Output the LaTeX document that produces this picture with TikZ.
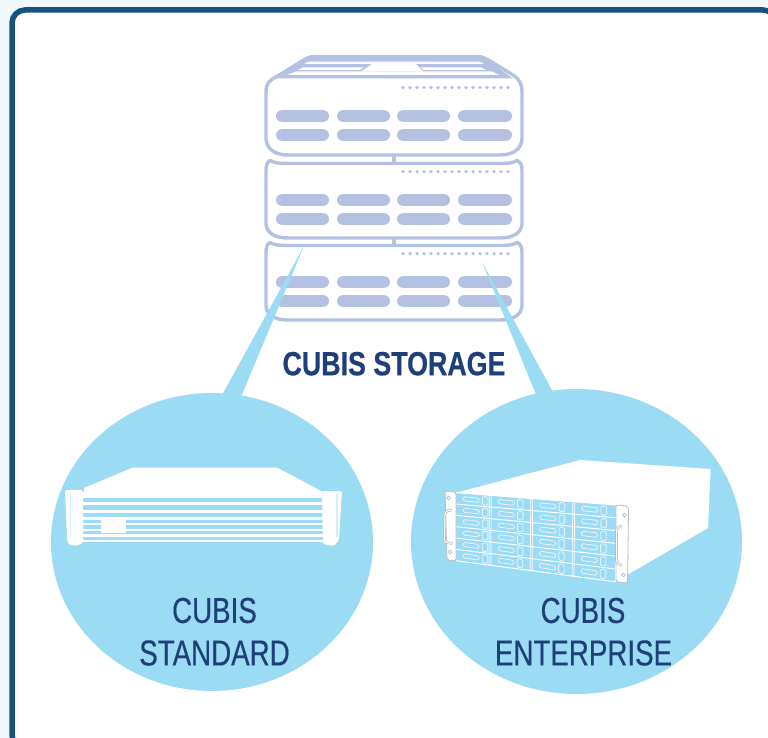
\documentclass[tikz,border=0pt]{standalone}
\usepackage{fontspec}
\setmainfont{Liberation Sans}
\newfontfamily\narrowA[FakeStretch=0.77,FakeBold=0.35]{Liberation Sans}
\newfontfamily\narrowB[FakeStretch=0.80,FakeBold=0.5]{Liberation Sans Bold}
\usetikzlibrary{calc}
\definecolor{outerbg}{HTML}{F1F9FC}
\definecolor{framec}{HTML}{14527F}
\definecolor{unitc}{HTML}{B4C1E3}
\definecolor{bubble}{HTML}{9BDBF3}
\definecolor{titlec}{HTML}{1E3F78}
\definecolor{earc}{HTML}{B9BEC2}
\tikzset{
  unitline/.style={draw=unitc,line width=3.4pt,line join=round},
  pill/.style={fill=unitc,rounded corners=5.8pt},
  slot/.style={draw=white!75!bubble,line width=.8pt,rounded corners=1.5pt},
  ear/.style={fill=white,draw=earc,line width=.8pt,rounded corners=2pt},
  handle/.style={draw=earc,line width=2.6pt,rounded corners=2.5pt,line cap=round},
  handlein/.style={draw=white,line width=1pt,rounded corners=2.5pt,line cap=round},
  labelA/.style={text=titlec,font=\narrowA\fontsize{36}{40}\selectfont,inner sep=0pt},
  labelB/.style={text=titlec,font=\narrowB\fontsize{33.5}{38}\selectfont,inner sep=0pt},
  faceline/.style={draw=white,line width=1pt}
}
\newcommand{\unitrows}[3]{%
  \foreach \xa/\xb in {276/329,337/390,397/450,458/512}{
    \fill[pill] (\xa,#1-5.8) rectangle (\xb,#1+5.8);
    \fill[pill] (\xa,#2-5.8) rectangle (\xb,#2+5.8);
  }
  \foreach \i in {0,...,15}{
    \fill[unitc] ({403+\i*7},#3) circle (1.8);
  }
}
\newcommand{\fp}[2]{($($(fa)!#1!(fb)$)!#2!($(fd)!#1!(fc)$)$)}
\newcommand{\stackbody}[1]{%
  \path[unitline,yshift=-#1pt] (270,160.5) .. controls (274,163) and (280,163.5) .. (290,163.5) -- (498,163.5) .. controls (508,163.5) and (513,163) .. (517,160.5) .. controls (521,162) and (522,166) .. (522,170) -- (522,223) .. controls (522,233) and (513,238) .. (500,238) -- (288,238) .. controls (275,238) and (266,233) .. (266,223) -- (266,170) .. controls (266,166) and (267,162) .. (270,160.5) -- cycle;
}
\begin{document}
\begin{tikzpicture}[x=1pt,y=-1pt]
\useasboundingbox (0,0) rectangle (768,738);
\fill[outerbg] (0,0) rectangle (768,738);
% frame
\begin{scope}
\clip (0,0) rectangle (768,738);
\draw[framec,line width=5.5pt,fill=white,rounded corners=13pt] (12,10) -- (776,10) -- (776,748) -- (12,748) -- cycle;
\end{scope}
% stack
\stackbody{82}
\stackbody{0}
\path[unitline] (394,155) -- (394,163);
\path[unitline] (394,238) -- (394,246);
\fill[unitc] (276,78.5) -- (306,58) -- (484,58) -- (513,78.5) -- cycle;
\fill[white] (308,61.7) -- (480,61.7) -- (484,64) -- (304,64) -- cycle;
\fill[white] (303,67.5) -- (363,67.5) -- (360,70) -- (298,70) -- cycle;
\fill[white] (421,67.5) -- (481,67.5) -- (486,70) -- (423,70) -- cycle;
\fill[white] (296,71.5) -- (492,71.5) -- (499,75) -- (287,75) -- cycle;
\fill[white] (372,64) -- (416,64) -- (423,71.5) -- (361,71.5) -- cycle;
\path[unitline] (266,92) .. controls (266,83) and (270,80) .. (276,77) -- (302,61) .. controls (307,58) and (310,56.5) .. (315,56.5) -- (477,56.5) .. controls (482,56.5) and (485,58) .. (490,61) -- (513,75) .. controls (519,79) and (522,83) .. (522,92) -- (522,138) .. controls (522,149) and (513,155) .. (500,155) -- (288,155) .. controls (275,155) and (266,149) .. (266,138) -- cycle;
\unitrows{116}{135}{87.5}
\unitrows{200}{219}{171.7}
\unitrows{282}{301}{253.7}
% beams and bubbles
\fill[bubble] (304,246) -- (241,397) -- (221,397) -- cycle;
\fill[bubble] (482,262) -- (553,392) -- (537,397) -- cycle;
\fill[bubble] (212,542) ellipse [x radius=161,y radius=149];
\fill[bubble] (576.5,541.5) ellipse [x radius=165.5,y radius=152.5];
% standard device
\fill[white] (84,488) -- (133,467.5) -- (277,467.5) -- (323,492) -- (323,493) -- (84,493) -- cycle;
\foreach \ya/\yb in {492/497.5,502/505,510/513,517/519.5,523/525,528.5/531,534/536.5,539.5/542}{
  \fill[white] (82,\ya) rectangle (323,\yb);
}
\fill[white] (101,519) rectangle (126,533);
\fill[white,rounded corners=1.5pt] (65,490) -- (83,490) -- (83,543) -- (76,546) -- (68,544) -- (67,538) -- cycle;
\fill[white,rounded corners=1.5pt] (322,491) -- (342,491) -- (339,540) -- (334,546) -- (323,544) -- cycle;
\fill[bubble!45!white] (69.5,494) rectangle (71,537);
\fill[bubble!45!white] (336,494) rectangle (337.5,537);
% enterprise device
\coordinate (fa) at (456,492.7);
\coordinate (fb) at (616,505);
\coordinate (fc) at (615,581.7);
\coordinate (fd) at (456,560.7);
\fill[white] (fa) -- (580,460) -- (710.7,469) -- (708,528) -- (627,575) -- (615,582) -- (fb) -- cycle;
\foreach \v in {0,1/6,2/6,3/6,4/6,5/6,1}{
  \draw[faceline] \fp{0}{\v} -- \fp{1}{\v};
}
\foreach \u in {0.208,0.467,0.73}{
  \draw[faceline,line width=.7pt] \fp{\u}{0} -- \fp{\u}{1};
  \draw[faceline,line width=.7pt] \fp{\u+0.012}{0} -- \fp{\u+0.012}{1};
}
\foreach \u in {0,0.22,0.48,0.742}{
  \foreach \v in {0,1/6,2/6,3/6,4/6,5/6}{
    \draw[slot] \fp{\u+0.045}{\v+0.05} -- \fp{\u+0.145}{\v+0.055} -- \fp{\u+0.145}{\v+0.115} -- \fp{\u+0.045}{\v+0.11} -- cycle;
    \draw[slot] \fp{\u+0.165}{\v+0.025} -- \fp{\u+0.2}{\v+0.025} -- \fp{\u+0.2}{\v+0.145} -- \fp{\u+0.165}{\v+0.145} -- cycle;
  }
}
\draw[ear] (445,491) -- (456,492) -- (456,561) -- (447,560) -- cycle;
\draw[ear] (616,505) -- (628,506) -- (628.5,512) -- (627.5,583) -- (616,582) -- cycle;
\draw[earc,line width=.8pt] (448.5,498) circle (1.9);
\draw[earc,line width=.8pt] (450,552) circle (1.9);
\draw[earc,line width=.8pt] (624.5,515) circle (1.9);
\draw[earc,line width=.8pt] (623.5,575) circle (1.9);
\draw[handle] (451,510) -- (445,511.5) -- (444.5,542) -- (452,543.5);
\draw[handlein] (451,510) -- (445,511.5) -- (444.5,542) -- (452,543.5);
\draw[handle] (621.5,526) -- (616.5,528) -- (616.5,563) -- (621.5,565);
\draw[handlein] (621.5,526) -- (616.5,528) -- (616.5,563) -- (621.5,565);
% labels
\node[labelB] (storage) at (394,363.7) {CUBIS STORAGE};
\node[labelA] (std1) at (214.5,610.5) {CUBIS};
\node[labelA] (std2) at (214.5,653) {STANDARD};
\node[labelA] (ent1) at (583,610.5) {CUBIS};
\node[labelA] (ent2) at (583.5,653) {ENTERPRISE};
\end{tikzpicture}
\end{document}
